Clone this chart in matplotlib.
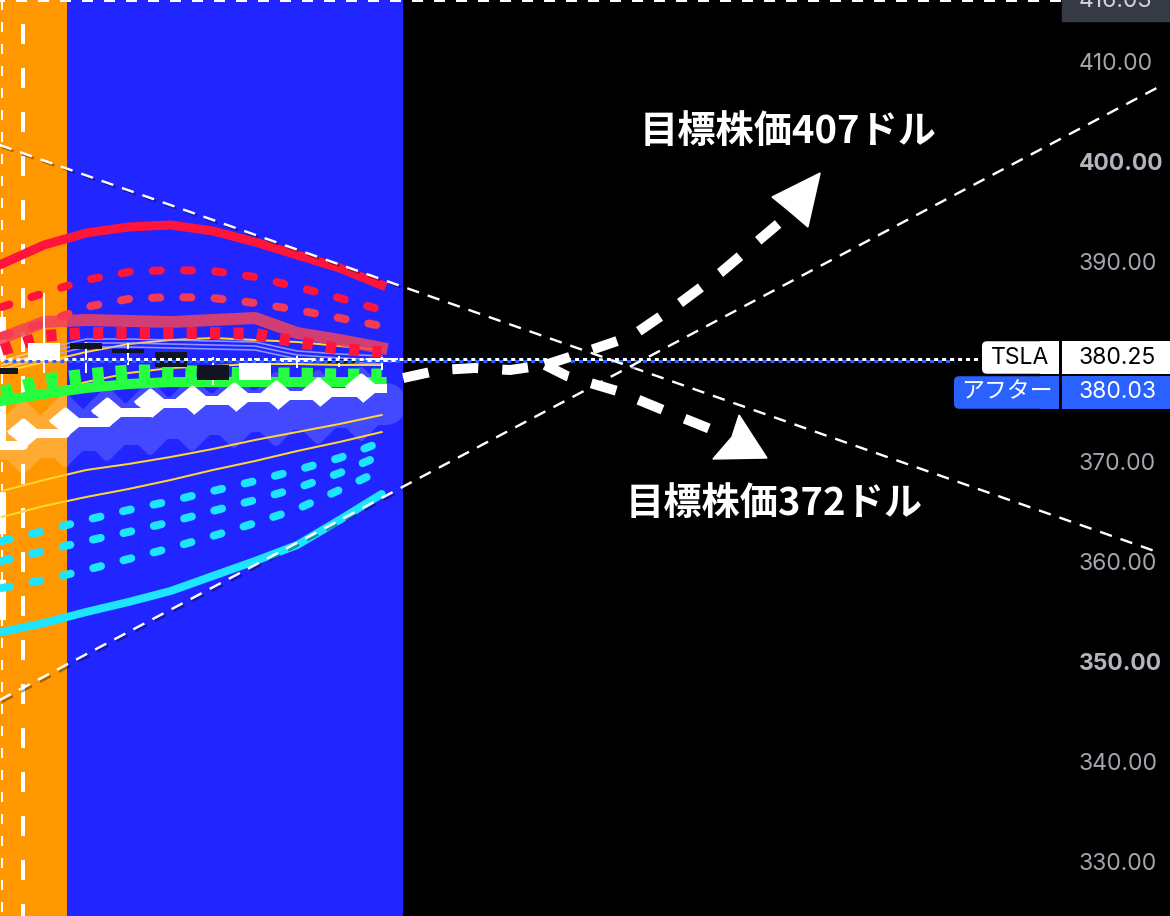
import numpy as np
import matplotlib
matplotlib.use("Agg")
import matplotlib.pyplot as plt
import matplotlib.transforms as mtransforms
import matplotlib.patheffects as pe
from matplotlib.patches import Rectangle, FancyBboxPatch, Polygon
from matplotlib.markers import MarkerStyle

plt.rcParams['font.family'] = ['Inter', 'Noto Sans CJK JP', 'DejaVu Sans']

# ---- data (bar index -1 .. 8, prices in USD) ----
bars = np.arange(-1, 9)

red_main = [389.7, 391.6, 392.8, 393.4, 393.6, 393.0, 391.9, 390.6, 389.3, 387.6]
red_dash_hi = [385.4, 386.8, 388.1, 388.9, 389.1, 389.0, 388.4, 387.4, 386.3, 385.1]
red_dash_lo = [382.5, 383.8, 385.4, 386.2, 386.4, 386.3, 385.8, 385.1, 384.3, 383.5]
red_blocks = [381.1, 382.5, 382.8, 382.8, 382.8, 382.8, 382.7, 381.9, 381.2, 380.9]
salmon = [382.3, 383.9, 384.1, 384.0, 383.9, 384.1, 384.3, 382.8, 382.1, 381.3]
lav_hi = [380.0, 381.2, 382.2, 382.2, 382.1, 382.0, 381.9, 381.0, 380.7, 380.5]
lav_mid = [379.6, 380.8, 381.8, 381.8, 381.7, 381.6, 381.5, 380.6, 380.3, 380.1]
lav_lo = [379.2, 380.4, 381.4, 381.4, 381.3, 381.2, 381.1, 380.2, 379.9, 379.7]
yellow_a = [378.9, 379.9, 380.9, 381.7, 382.1, 382.3, 382.1, 381.9, 381.5, 381.1]
yellow_b = [375.9, 376.9, 377.9, 378.8, 379.3, 379.5, 379.7, 379.7, 379.6, 379.6]
yellow_c = [367.0, 368.1, 369.1, 369.7, 370.4, 371.2, 372.1, 372.9, 373.7, 374.6]
yellow_d = [364.4, 365.5, 366.4, 367.2, 368.1, 369.1, 370.0, 371.0, 371.9, 372.9]
green_blocks = [376.7, 378.0, 378.5, 378.9, 378.9, 378.7, 378.6, 378.6, 378.5, 378.5]
green_main = [376.0, 376.7, 377.3, 377.7, 377.9, 377.9, 377.9, 377.9, 377.9, 377.9]
cyan_main = [352.9, 353.8, 354.9, 355.9, 357.0, 358.5, 360.0, 361.6, 364.1, 366.7]
cyan_a = [362.0, 363.0, 364.1, 365.1, 366.0, 367.0, 368.0, 369.1, 370.3, 371.9]
cyan_b = [360.0, 361.0, 362.0, 362.9, 363.9, 365.0, 366.1, 367.3, 368.8, 370.6]
cyan_c = [357.3, 358.1, 359.1, 360.2, 361.3, 362.5, 363.8, 365.2, 367.1, 369.1]

candle_open = [379.3, 380.1, 381.8, 381.2, 380.9, 379.6, 378.1, 379.9, 380.2, 379.9]
candle_close = [378.7, 381.8, 381.2, 380.8, 379.4, 378.1, 379.8, 380.3, 379.8, 380.3]
candle_high = [379.4, 386.8, 381.9, 381.8, 380.9, 380.4, 380.3, 380.5, 380.5, 380.4]
candle_low = [378.6, 378.8, 378.8, 379.6, 379.4, 377.6, 378.1, 379.3, 379.4, 379.1]

# step line with diamonds (one level before the first step, then one per step)
step_levels = [371.6, 372.8, 373.9, 374.9, 375.8, 376.1, 376.4, 376.6, 376.9, 377.3]
band_levels = [372.2, 372.4, 373.1, 373.7, 374.3, 374.7, 375.0, 375.2, 375.4, 375.7]

# trend lines drawn on the chart (bar, price)
trend_down_x = [-1.05, 26.45]
trend_down_y = [401.6, 360.8]
trend_up_x = [-1.05, 26.5]
trend_up_y = [346.1, 407.6]

# target arrows
arrow_start_x = [8.51, 9.38, 10.21, 11.04, 11.87]
arrow_start_y = [378.3, 379.1, 379.3, 379.1, 379.6]
arrow_up_x = [11.87, 12.82, 13.93, 15.07, 16.02, 17.56]
arrow_up_y = [379.6, 380.9, 382.5, 385.8, 388.8, 394.3]
arrow_dn_x = [11.87, 12.39, 13.58, 14.67, 16.02]
arrow_dn_y = [379.6, 378.5, 377.0, 375.1, 372.8]
head_up = [(18.39, 398.8), (17.25, 396.4), (17.63, 395.1), (18.10, 393.4)]
head_dn = [(17.13, 370.3), (16.47, 374.6), (16.30, 372.4), (15.85, 370.2)]
target_hi = 407
target_lo = 372

last_price = 380.25
after_price = 380.03
top_price = 416.03
price_ticks = [330, 340, 350, 360, 370, 390, 400, 410]  # 380 sits under the price tag

# ---- figure ----
W, H = 1170, 916
fig = plt.figure(figsize=(W / 100, H / 100), dpi=100, facecolor='black')
ax = fig.add_axes([0, 0, 1, 1])
ax.set_facecolor('black')
ax.set_xlim(-1.043, 26.68)
ax.set_ylim(324.5, 416.1)
for s in ax.spines.values():
    s.set_visible(False)
ax.set_xticks([])

PX = 0.72  # points per pixel

# background session bands
ax.axvspan(-5, 0.55, color='#ff9800', zorder=0, lw=0)
ax.axvspan(0.55, 8.5, color='#2125ff', zorder=0, lw=0)

# wide translucent band under step line (opaque blends per region)
sx = np.concatenate([[-1.1], np.arange(9) - 0.5, [8.1]])
band_y = band_levels + [band_levels[-1]]
wave_marker = MarkerStyle('D', joinstyle='round')
for x0, x1, col in [(-5, 0.55, '#ffab33'), (0.55, 8.5, '#4249ff')]:
    clip = Rectangle((x0, 300), x1 - x0, 200, transform=ax.transData)
    ln, = ax.plot(sx, band_y, drawstyle='steps-post', color=col, lw=42 * PX,
                  solid_capstyle='round', solid_joinstyle='round',
                  marker=wave_marker, markersize=46 * PX, markevery=list(range(1, 10)),
                  markeredgewidth=8 * PX, markeredgecolor=col, zorder=1)
    ln.set_clip_path(clip)

# vertical dashed lines at the left
ax.plot([-1.0, -1.0], [416.1, 324.5], color='white', lw=2 * PX, dashes=(5, 6), zorder=2)
ax.plot([-0.5, -0.5], [416.1, 324.5], color='white', lw=4 * PX, ls=(5, (5, 6)), zorder=2)
ax.plot([-1.043, -1.043], [384.4, 354.1], color='white', lw=12 * PX, dashes=(3.5, 3.8),
        solid_capstyle='butt', zorder=2)

# cyan
ax.plot(bars, cyan_main, color='#1ee5ff', lw=8 * PX, zorder=3, solid_capstyle='round')
for row in (cyan_a, cyan_b, cyan_c):
    ax.plot(bars, row, color='#1ee5ff', lw=8 * PX, dashes=(1.0, 2.9),
            dash_capstyle='round', zorder=3)

# yellow
for row in (yellow_a, yellow_b, yellow_c, yellow_d):
    ax.plot(bars, row, color='#ffd633', lw=2 * PX, zorder=3.2)

# green
ax.plot(bars, green_main, color='#26ff3f', lw=10 * PX, zorder=3.4)
ax.plot(bars, green_blocks, color='#26ff3f', lw=15 * PX, dashes=(0.75, 0.8),
        dash_capstyle='butt', zorder=3.5)

# lavender thin lines
for row in (lav_hi, lav_mid, lav_lo):
    ax.plot(bars[1:], row[1:], color='#a9b3ff', lw=1.6 * PX, alpha=0.8, zorder=3.6)
    ax.plot(bars[:2], row[:2], color='#ffe0b0', lw=1.6 * PX, alpha=0.7, zorder=3.6)

# red family
ax.plot(bars, salmon, color='#f0435a', lw=12 * PX, alpha=0.85, zorder=3.8)
ax.plot(bars, red_blocks, color='#ff143c', lw=12 * PX, dashes=(0.85, 1.1),
        dash_capstyle='butt', zorder=3.9)
ax.plot(bars, red_dash_lo, color='#f53a52', lw=8 * PX, dashes=(1.0, 2.9),
        dash_capstyle='round', zorder=4)
ax.plot(bars, red_dash_hi, color='#ff143c', lw=8 * PX, dashes=(1.0, 2.9),
        dash_capstyle='round', zorder=4)
ax.plot(bars, red_main, color='#ff143c', lw=9 * PX, zorder=4.1)

# candles
c_open = np.array(candle_open)
c_close = np.array(candle_close)
up = c_close >= c_open
ax.vlines(bars, candle_low, candle_high, color='white', lw=2 * PX, zorder=5)
body_col = np.where(up, 'white', '#111522')
ax.bar(bars, np.abs(c_close - c_open), bottom=np.minimum(c_open, c_close), width=0.76,
       color=list(body_col), edgecolor='none', zorder=5.1)

# white step line with diamonds
step_y = step_levels + [step_levels[-1]]
sx2 = np.concatenate([[-1.1], np.arange(9) - 0.5, [8.0]])
dia = MarkerStyle([(-1.2, 0), (0, 1), (1.2, 0), (0, -1)], joinstyle='round')
ax.plot(sx2, step_y, drawstyle='steps-post', color='white', lw=9 * PX,
        marker=dia, markersize=30 * PX, markevery=list(range(1, 10)),
        markeredgewidth=5 * PX, markeredgecolor='white', zorder=6)

# price lines
ax.plot([-1.05, 21.57], [after_price, after_price], color='#2962ff', lw=3 * PX,
        ls=(1.33, (1.33, 1.33)), zorder=6.5)
ax.plot([-1.05, 22.24], [last_price, last_price], color='white', lw=3 * PX,
        dashes=(1.33, 1.33), zorder=6.6)
ax.plot([-1.05, 24.12], [top_price, top_price], color='white', lw=2 * PX,
        ls=(3, (5.5, 5.5)), zorder=6.6)

# trend lines
shadow = [pe.SimpleLineShadow(offset=(1.5, -1.5), shadow_color='black', alpha=0.35), pe.Normal()]
for tx, ty in ((trend_down_x, trend_down_y), (trend_up_x, trend_up_y)):
    ax.plot(tx, ty, color='white', lw=2.4 * PX, dashes=(5.2, 3.8), zorder=7,
            path_effects=shadow)

# target arrows
for xs, ys in ((arrow_start_x, arrow_start_y), (arrow_up_x, arrow_up_y), (arrow_dn_x, arrow_dn_y)):
    ax.plot(xs, ys, color='white', lw=10 * PX, dashes=(2.6, 2.4),
            dash_capstyle='butt', zorder=8)
ax.add_patch(Polygon(head_up, closed=True, color='white', zorder=8))
ax.add_patch(Polygon(head_dn, closed=True, color='white', zorder=8))

jp_bold = dict(family=['Noto Sans CJK JP', 'DejaVu Sans'], fontweight='bold',
               fontsize=27.5, color='white', ha='center', va='center', zorder=9)
ax.text(17.63, 403.0, f'目標株価{target_hi}ドル', **jp_bold)
ax.text(17.30, 365.8, f'目標株価{target_lo}ドル', **jp_bold)

# ---- price scale on the right ----
ax.yaxis.tick_right()
ax.set_yticks(price_ticks)
ax.set_yticklabels([f'{v:.2f}' for v in price_ticks])
ax.tick_params(axis='y', length=0, pad=-91 * PX, labelsize=16.5, labelcolor='#a3a6ae')
for lbl in ax.get_yticklabels():
    if lbl.get_text() in ('400.00', '350.00'):
        lbl.set_fontweight('bold')
        lbl.set_color('#b2b5be')

trans = mtransforms.blended_transform_factory(ax.transAxes, ax.transData)
fx = lambda px: px / W
lab_x = fx(1079)

# top (416.03) label
ax.add_patch(Rectangle((fx(1062), top_price - 2.0), fx(108), 4.0, transform=trans,
                       color='#363a45', zorder=10, clip_on=False))
ax.text(lab_x, top_price, f'{top_price:.2f}', transform=trans, color='#d1d4dc',
        fontsize=16.5, va='center', ha='left', zorder=11)

def price_tag(name, value, yc, face, txt):
    h = 3.25
    rs = fx(5)
    asp = 0.5 / rs
    ax.add_patch(FancyBboxPatch((name[1], yc - h / 2), fx(1059) - name[1], h,
                                boxstyle=f'round,pad=0,rounding_size={rs}', mutation_aspect=asp,
                                transform=trans, facecolor=face, edgecolor='none', zorder=10))
    ax.add_patch(Rectangle((fx(1040), yc - h / 2), fx(19), h, transform=trans,
                           facecolor=face, edgecolor='none', zorder=10))
    ax.add_patch(Rectangle((fx(1062), yc - h / 2), fx(108), h, transform=trans,
                           facecolor=face, edgecolor='none', zorder=10))
    ax.text((name[1] + fx(1059)) / 2, yc, name[0], transform=trans, color=txt,
            fontsize=16.5, ha='center', va='center', zorder=11)
    ax.text(lab_x, yc, f'{value:.2f}', transform=trans, color=txt,
            fontsize=16.5, ha='left', va='center', zorder=11)

price_tag(('TSLA', fx(982)), last_price, 380.35, 'white', 'black')
price_tag(('アフター', fx(954)), after_price, 376.85, '#2962ff', 'white')

fig.savefig('out.png', dpi=100, facecolor='black')
